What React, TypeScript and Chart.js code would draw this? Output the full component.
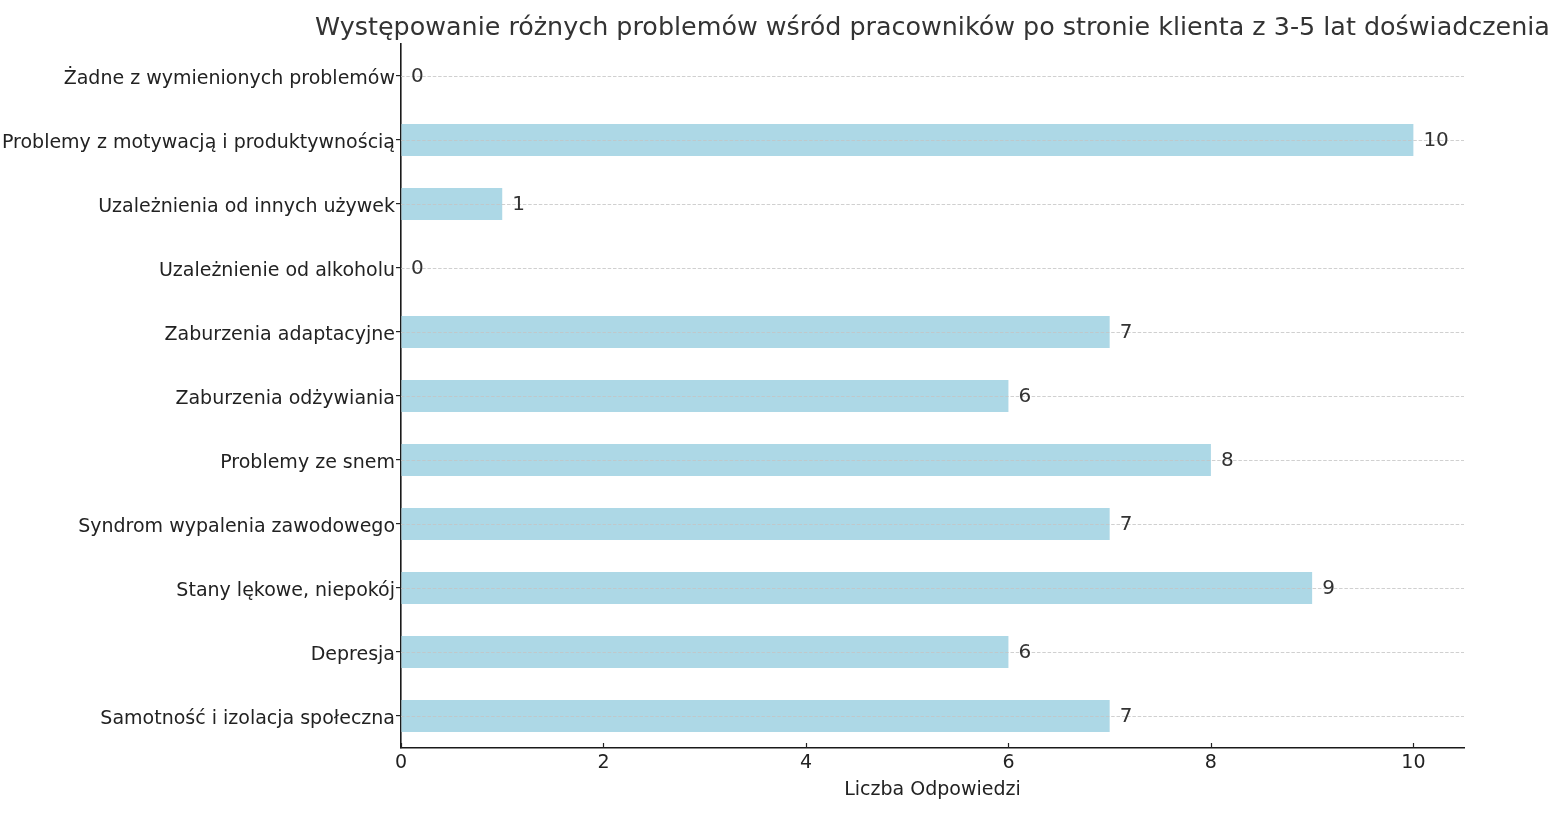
import React, { useEffect, useRef } from "react";
import { Chart, registerables } from "chart.js";

Chart.register(...registerables);

const TITLE = "Występowanie różnych problemów wśród pracowników po stronie klienta z 3-5 lat doświadczenia";
const X_LABEL = "Liczba Odpowiedzi";

const categories = [
  "Żadne z wymienionych problemów",
  "Problemy z motywacją i produktywnością",
  "Uzależnienia od innych używek",
  "Uzależnienie od alkoholu",
  "Zaburzenia adaptacyjne",
  "Zaburzenia odżywiania",
  "Problemy ze snem",
  "Syndrom wypalenia zawodowego",
  "Stany lękowe, niepokój",
  "Depresja",
  "Samotność i izolacja społeczna",
];

const responses = [0, 10, 1, 0, 7, 6, 8, 7, 9, 6, 7];

const xTickValues = [0, 2, 4, 6, 8, 10];
const X_MAX = 10.5;

const FONT = "'DejaVu Sans', sans-serif";

const overlayPlugin = {
  id: "overlay",
  afterDatasetsDraw(chart: any) {
    const { ctx, chartArea, scales } = chart;
    const y = scales.y;
    const x = scales.x;
    ctx.save();
    // dashed horizontal grid lines over bars
    ctx.strokeStyle = "#c4c4c4";
    ctx.lineWidth = 0.8;
    ctx.setLineDash([3.5, 1.8]);
    y.ticks.forEach((_: any, i: number) => {
      const py = Math.round(y.getPixelForTick(i)) + 0.5;
      ctx.beginPath();
      ctx.moveTo(chartArea.left, py);
      ctx.lineTo(chartArea.right, py);
      ctx.stroke();
    });
    ctx.setLineDash([]);
    // value labels
    const meta = chart.getDatasetMeta(0);
    ctx.fillStyle = "#333333";
    ctx.font = `20px ${FONT}`;
    ctx.textAlign = "left";
    ctx.textBaseline = "middle";
    meta.data.forEach((bar: any, i: number) => {
      const v = chart.data.datasets[0].data[i];
      ctx.fillText(String(v), bar.x + 10, bar.y + 1);
    });
    // inward x ticks
    ctx.strokeStyle = "#222222";
    ctx.lineWidth = 1.2;
    x.ticks.forEach((t: any) => {
      const px = Math.round(x.getPixelForValue(t.value)) + 0.5;
      ctx.beginPath();
      ctx.moveTo(px, chartArea.bottom);
      ctx.lineTo(px, chartArea.bottom - 5);
      ctx.stroke();
    });
    ctx.restore();
  },
  afterDraw(chart: any) {
    const { ctx, chartArea } = chart;
    const cx = (chartArea.left + chartArea.right) / 2;
    ctx.save();
    ctx.fillStyle = "#333333";
    ctx.textAlign = "center";
    ctx.textBaseline = "alphabetic";
    ctx.font = `25.4px ${FONT}`;
    ctx.fillText(TITLE, cx, 35);
    ctx.fillStyle = "#222222";
    ctx.font = `19px ${FONT}`;
    ctx.fillText(X_LABEL, cx, 795);
    ctx.restore();
  },
};

export default function App() {
  const canvasRef = useRef<HTMLCanvasElement | null>(null);

  useEffect(() => {
    const canvas = canvasRef.current;
    if (!canvas) return;
    const chart = new Chart(canvas, {
      type: "bar",
      data: {
        labels: categories,
        datasets: [
          {
            data: responses,
            backgroundColor: "#ADD8E6",
            borderWidth: 0,
            categoryPercentage: 1,
            barPercentage: 0.5,
          },
        ],
      },
      options: {
        indexAxis: "y",
        responsive: false,
        animation: false,
        layout: { padding: { left: 0, top: 44, right: 88, bottom: 0 } },
        plugins: {
          legend: { display: false },
          tooltip: { enabled: false },
          title: { display: false },
        },
        scales: {
          x: {
            type: "linear",
            min: 0,
            max: X_MAX,
            afterBuildTicks: (scale: any) => {
              scale.ticks = xTickValues.map((v) => ({ value: v }));
            },
            afterFit: (scale: any) => {
              scale.height = 70;
            },
            grid: { display: true, drawOnChartArea: false, drawTicks: false },
            border: { display: true, color: "#1a1a1a", width: 1.6 },
            ticks: {
              padding: 4,
              color: "#222222",
              font: { family: FONT, size: 19 },
            },
          },
          y: {
            type: "category",
            offset: true,
            afterFit: (scale: any) => {
              scale.width = 401;
            },
            grid: {
              display: true,
              offset: false,
              drawOnChartArea: false,
              drawTicks: true,
              tickLength: 5,
              lineWidth: 1.2,
              color: "#222222",
            },
            border: { display: true, color: "#1a1a1a", width: 1.6 },
            ticks: {
              padding: 1,
              labelOffset: 3,
              color: "#222222",
              font: { family: FONT, size: 19 },
              autoSkip: false,
            },
          },
        },
      },
      plugins: [overlayPlugin],
    });
    return () => chart.destroy();
  }, []);

  return (
    <div style={{ position: "absolute", left: 0, top: 0, width: 1552, height: 818, background: "#fff" }}>
      <canvas ref={canvasRef} width={1552} height={818} style={{ display: "block" }} />
    </div>
  );
}
